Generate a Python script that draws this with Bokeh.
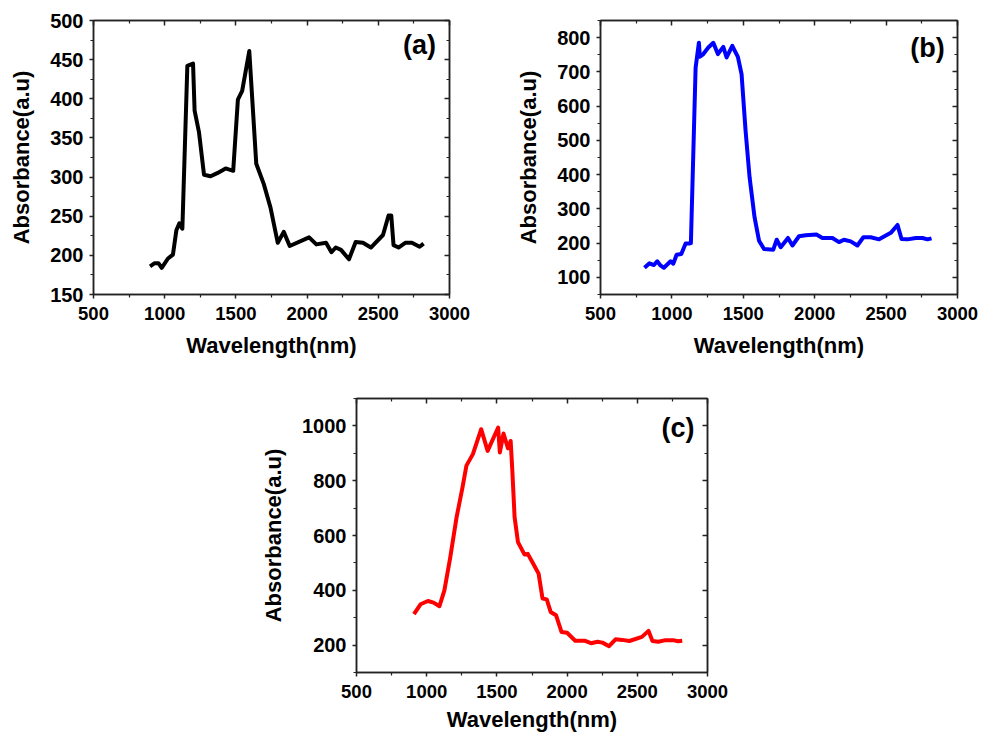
from bokeh.plotting import figure
from bokeh.models import LinearAxis, FixedTicker, Label, Range1d, Spacer, CustomJSTickFormatter
from bokeh.layouts import column, row
from bokeh.embed import file_html
from bokeh.resources import INLINE

# ---------------- data ----------------
a_x = [897, 930, 956, 979, 1023, 1058, 1082, 1103, 1124, 1159, 1199, 1210, 1241, 1276, 1322,
       1369, 1428, 1481, 1514, 1544, 1594, 1643, 1696, 1743, 1794, 1836, 1878, 2014, 2065, 2133,
       2171, 2201, 2238, 2294, 2341, 2392, 2448, 2533, 2572, 2591, 2607, 2642, 2689, 2736, 2790, 2818]
a_y = [186, 190, 190, 184, 196, 201, 232, 241, 234, 442, 445, 385, 357, 303, 301,
       305, 311, 308, 399, 410, 461, 317, 291, 261, 216, 230, 212, 223, 214, 216,
       204, 210, 207, 195, 217, 216, 210, 226, 251, 251, 213, 210, 216, 216, 211, 215]

b_x = [808, 843, 874, 897, 920, 944, 991, 1010, 1033, 1066, 1096, 1126, 1133, 1166, 1189,
       1196, 1220, 1255, 1290, 1322, 1360, 1383, 1423, 1462, 1488, 1516, 1544, 1579, 1610, 1645,
       1710, 1734, 1762, 1813, 1844, 1890, 1937, 2012, 2054, 2124, 2170, 2205, 2252, 2299, 2341,
       2392, 2451, 2533, 2580, 2608, 2650, 2708, 2755, 2790, 2818]
b_y = [128, 141, 136, 147, 135, 128, 147, 140, 166, 168, 199, 199, 200, 712, 785,
       744, 752, 771, 785, 752, 773, 742, 776, 744, 693, 528, 392, 275, 207, 183,
       181, 210, 188, 215, 193, 220, 223, 225, 215, 215, 203, 210, 205, 193, 217,
       217, 211, 230, 253, 212, 211, 215, 215, 211, 214]

c_x = [909, 956, 1009, 1049, 1091, 1126, 1166, 1213, 1255, 1283, 1329, 1388, 1434, 1509, 1521,
       1547, 1579, 1598, 1610, 1626, 1650, 1696, 1720, 1757, 1797, 1825, 1855, 1883, 1921, 1960,
       2000, 2058, 2124, 2170, 2217, 2252, 2299, 2345, 2392, 2444, 2533, 2580, 2608, 2650, 2701,
       2755, 2790, 2820]
c_y = [313, 349, 361, 355, 342, 400, 515, 667, 776, 855, 897, 988, 909, 994, 903,
       972, 918, 945, 836, 667, 576, 531, 533, 499, 461, 370, 367, 321, 309, 248,
       245, 216, 216, 207, 212, 209, 196, 221, 219, 215, 230, 252, 215, 212, 218,
       218, 214, 216]

x_ticks = [500, 1000, 1500, 2000, 2500, 3000]
x_minor = [750, 1250, 1750, 2250, 2750]
a_yticks = [150, 200, 250, 300, 350, 400, 450, 500]
a_yminor = [175, 225, 275, 325, 375, 425, 475]
b_yticks = [100, 200, 300, 400, 500, 600, 700, 800]
b_yminor = [50, 150, 250, 350, 450, 550, 650, 750, 850]
c_yticks = [200, 400, 600, 800, 1000]
c_yminor = [100, 300, 500, 700, 900, 1100]

x_label = "Wavelength(nm)"
y_label = "Absorbance(a.u)"

FONT = "Liberation Sans"
AX = "#222222"


def style_axis(ax, ticks, minor, inner=False, tick_size="18px"):
    ax.ticker = FixedTicker(ticks=ticks, minor_ticks=minor)
    ax.axis_line_color = AX
    ax.axis_line_width = 1.5
    ax.major_tick_line_color = AX
    ax.minor_tick_line_color = AX
    ax.major_tick_line_width = 1.5
    ax.minor_tick_line_width = 1.2
    if inner:
        ax.major_tick_in = 5
        ax.major_tick_out = 0
        ax.minor_tick_in = 3
        ax.minor_tick_out = 0
        ax.formatter = CustomJSTickFormatter(code="return ''")
        ax.major_label_text_font_size = "0px"
        ax.major_label_standoff = 0
    else:
        ax.major_tick_in = 0
        ax.major_tick_out = 4
        ax.minor_tick_in = 0
        ax.minor_tick_out = 3
        ax.major_label_text_font = FONT
        ax.major_label_text_font_style = "bold"
        ax.major_label_text_font_size = tick_size
        ax.major_label_text_color = "black"
        ax.axis_label_text_font = FONT
        ax.axis_label_text_font_style = "bold"
        ax.axis_label_text_font_size = "22px"
        ax.axis_label_text_color = "black"


def panel(xs, ys, color, ylo, yhi, yt, ym, tag, tag_y, w, h, ml, mr, mt, mb, xstand):
    p = figure(width=w, height=h, x_range=Range1d(500, 3000), y_range=Range1d(ylo, yhi),
               output_backend="svg", toolbar_location=None,
               min_border_left=ml, min_border_right=mr, min_border_top=mt, min_border_bottom=mb,
               x_axis_label=x_label, y_axis_label=y_label)
    p.grid.visible = False
    p.outline_line_color = AX
    p.outline_line_width = 1.5
    p.background_fill_color = "white"
    p.border_fill_color = "white"
    p.line(xs, ys, line_color=color, line_width=4, line_join="round")
    style_axis(p.xaxis[0], x_ticks, x_minor, tick_size="18.5px")
    style_axis(p.yaxis[0], yt, ym, tick_size="20px")
    p.xaxis[0].major_label_standoff = 8
    p.xaxis[0].axis_label_standoff = xstand
    p.yaxis[0].major_label_standoff = 6
    p.yaxis[0].axis_label_standoff = 13
    top = LinearAxis()
    style_axis(top, x_ticks, x_minor, inner=True)
    p.add_layout(top, "above")
    right = LinearAxis()
    style_axis(right, yt, ym, inner=True)
    p.add_layout(right, "right")
    p.add_layout(Label(x=2790, y=tag_y, text=tag, text_align="center", text_baseline="middle",
                       text_font=FONT, text_font_style="bold", text_font_size="27px",
                       text_color="black"))
    return p


pa = panel(a_x, a_y, "black", 150, 500, a_yticks, a_yminor, "(a)", 469,
           508, 361, 93, 59, 20, 67, 10)
pb = panel(b_x, b_y, "#0000FF", 50, 850, b_yticks, b_yminor, "(b)", 771,
           482, 361, 92, 33, 20, 67, 10)
pc = panel(c_x, c_y, "#FF0000", 100, 1100, c_yticks, c_yminor, "(c)", 994,
           479, 375, 92, 30, 37, 64, 6)

layout = column(row(pa, pb), row(Spacer(width=258, height=375), pc))

open("out.html", "w").write(file_html(layout, INLINE))
